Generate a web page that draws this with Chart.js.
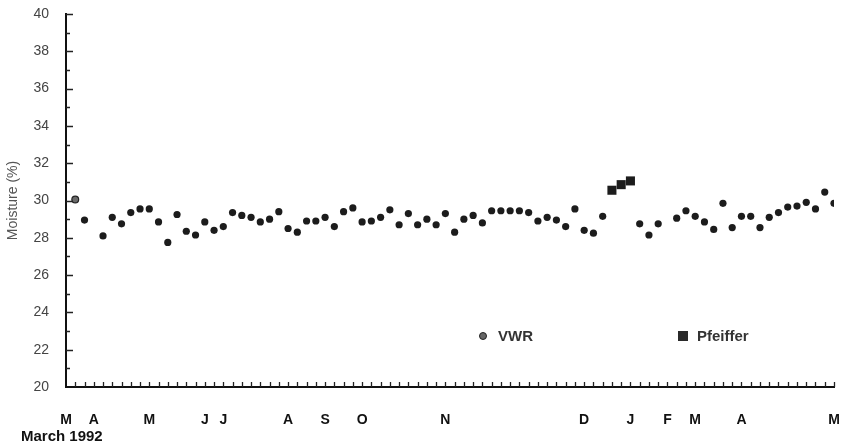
<!DOCTYPE html>
<html>
<head>
<meta charset="utf-8">
<script src="https://cdn.jsdelivr.net/npm/chart.js@4/dist/chart.umd.min.js"></script>
<style>
  html, body { margin: 0; padding: 0; background: #fff; }
  #wrap { position: relative; width: 843px; height: 446px; font-family: "Liberation Sans", Arial, sans-serif; }
  #wrap canvas { position: absolute; left: 0; top: 0; }
  .leg { position: absolute; top: 327px; font-weight: bold; font-size: 15px; color: #333; line-height: 18px; }
  .mk { position: absolute; }
  #start { position: absolute; left: 21px; top: 427px; font-weight: bold; font-size: 15px; color: #111; }
</style>
</head>
<body>
<div id="wrap">
  <canvas id="chart" width="843" height="446"></canvas>
  <span class="mk" style="left:479px;top:332px;width:6px;height:6px;border-radius:50%;background:#666;border:1px solid #222"></span>
  <span class="leg" style="left:498px">VWR</span>
  <span class="mk" style="left:678px;top:331px;width:10px;height:10px;background:#2a2a2a"></span>
  <span class="leg" style="left:697px">Pfeiffer</span>
  <div id="start">March 1992</div>
</div>
<script>
// weekly samples, index 0 = first week of March 1992 (null = no sample / other instrument)
const moisture = [
  null, 28.95, null, 28.1, 29.1, 28.75, 29.35, 29.55, 29.55, 28.85,
  27.75, 29.25, 28.35, 28.15, 28.85, 28.4, 28.6, 29.35, 29.2, 29.1,
  28.85, 29.0, 29.4, 28.5, 28.3, 28.9, 28.9, 29.1, 28.6, 29.4,
  29.6, 28.85, 28.9, 29.1, 29.5, 28.7, 29.3, 28.7, 29.0, 28.7,
  29.3, 28.3, 29.0, 29.2, 28.8, 29.45, 29.45, 29.45, 29.45, 29.35,
  28.9, 29.1, 28.95, 28.6, 29.55, 28.4, 28.25, 29.15, null, null,
  null, 28.75, 28.15, 28.75, null, 29.05, 29.45, 29.15, 28.85, 28.45,
  29.85, 28.55, 29.15, 29.15, 28.55, 29.1, 29.35, 29.65, 29.7, 29.9,
  29.55, 30.45, 29.85
];
const vwrWeeks = [0];
const vwrMoisture = [30.05];
const pfeifferWeeks = [58, 59, 60];
const pfeifferMoisture = [30.55, 30.85, 31.05];

const monthWeeks = [-1, 2, 8, 14, 16, 23, 27, 31, 40, 55, 60, 64, 67, 72, 82];
const monthLabels = ["M", "A", "M", "J", "J", "A", "S", "O", "N", "D", "J", "F", "M", "A", "M"];

const toPoints = (xs, ys) => xs.map((x, i) => ({ x: x, y: ys[i] }));
const mainPoints = moisture.map((v, i) => ({ x: i, y: v })).filter(p => p.y !== null);

// tick marks point into the plot, drawn from the scales
const innerTicks = {
  id: "innerTicks",
  afterDraw(chart) {
    const { ctx, chartArea, scales: { x, y } } = chart;
    ctx.save();
    ctx.strokeStyle = "#222";
    ctx.lineWidth = 1.3;
    ctx.beginPath();
    x.ticks.forEach(t => {
      if (t.value < 0) return;
      const px = Math.round(x.getPixelForValue(t.value)) + 0.5;
      ctx.moveTo(px, chartArea.bottom);
      ctx.lineTo(px, chartArea.bottom - 5);
    });
    y.ticks.forEach(t => {
      if (t.value <= 20) return;
      const py = Math.round(y.getPixelForValue(t.value)) + 0.5;
      const len = t.value % 2 === 0 ? 7 : 4;
      ctx.moveTo(chartArea.left, py);
      ctx.lineTo(chartArea.left + len, py);
    });
    ctx.stroke();
    ctx.restore();
  }
};

new Chart(document.getElementById("chart").getContext("2d"), {
  type: "scatter",
  data: {
    datasets: [
      { label: "samples", data: mainPoints, pointRadius: 3.6, pointHoverRadius: 3.6, backgroundColor: "#1c1c1c", borderWidth: 0 },
      { label: "VWR", data: toPoints(vwrWeeks, vwrMoisture), pointRadius: 3.4, backgroundColor: "#6a6a6a", borderColor: "#222", borderWidth: 1.2 },
      { label: "Pfeiffer", data: toPoints(pfeifferWeeks, pfeifferMoisture), pointStyle: "rect", pointRadius: 6.4, backgroundColor: "#1c1c1c", borderWidth: 0 }
    ]
  },
  options: {
    responsive: false,
    animation: false,
    layout: { padding: { top: 14, right: 9, bottom: 0, left: 0 } },
    plugins: { legend: { display: false }, tooltip: { enabled: false } },
    scales: {
      x: {
        type: "linear",
        min: -1,
        max: 82,
        afterFit: s => { s.height = 59; s.paddingLeft = 0; s.paddingRight = 0; },
        grid: { display: false },
        border: { display: true, color: "#111", width: 2 },
        ticks: {
          stepSize: 1,
          autoSkip: false,
          maxRotation: 0,
          padding: 17,
          color: "#111",
          font: { family: "'Liberation Sans', Arial, sans-serif", size: 14, weight: "bold" },
          callback: v => {
            const k = monthWeeks.indexOf(v);
            return k >= 0 ? monthLabels[k] : "";
          }
        }
      },
      y: {
        min: 20,
        max: 40,
        afterFit: s => { s.width = 66; s.paddingTop = 0; s.paddingBottom = 0; },
        grid: { display: false },
        border: { display: true, color: "#111", width: 2 },
        title: {
          display: true,
          text: "Moisture (%)",
          color: "#555",
          padding: 5,
          font: { family: "'Liberation Sans', Arial, sans-serif", size: 14 }
        },
        ticks: {
          stepSize: 1,
          autoSkip: false,
          padding: 9,
          color: "#444",
          font: { family: "'Liberation Sans', Arial, sans-serif", size: 14 },
          callback: v => v % 2 === 0 ? v : ""
        }
      }
    }
  },
  plugins: [innerTicks]
});
</script>
</body>
</html>
